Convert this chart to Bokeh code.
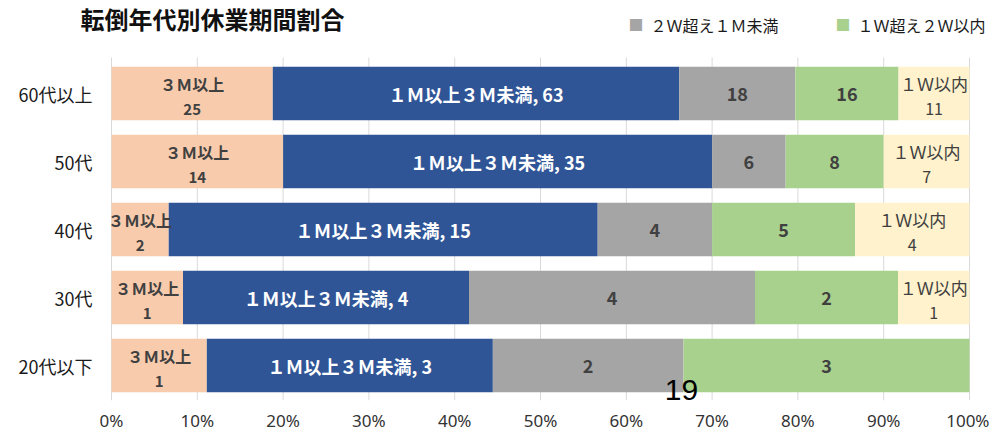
import numpy as np
from bokeh.plotting import figure
from bokeh.models import ColumnDataSource, Range1d, FixedTicker, NumeralTickFormatter
from bokeh.core.properties import value
from bokeh.embed import file_html
from bokeh.resources import INLINE

# ---------------- data ----------------
chart_title = "転倒年代別休業期間割合"
categories = ["60代以上", "50代", "40代", "30代", "20代以下"]  # top to bottom
series_names = ["３Ｍ以上", "１Ｍ以上３Ｍ未満", "２Ｗ超え１Ｍ未満", "１Ｗ超え２Ｗ以内", "１Ｗ以内"]
v_3m_plus = [25, 14, 2, 1, 1]
v_1m_3m = [63, 35, 15, 4, 3]
v_2w_1m = [18, 6, 4, 4, 2]
v_1w_2w = [16, 8, 5, 2, 3]
v_1w_in = [11, 7, 4, 1, 0]
series_colors = ["#F8CBAD", "#2F5597", "#A5A5A5", "#A9D18E", "#FFF2CC"]
x_ticks = [0.0, 0.1, 0.2, 0.3, 0.4, 0.5, 0.6, 0.7, 0.8, 0.9, 1.0]
legend_series = [2, 3]  # visible legend entries
page_note = "19"

# ---------------- layout / style ----------------
JP = "Noto Sans CJK JP"
DARK = "#404040"
FRAME_W, FRAME_H = 989, 400
PX_X = 858.0          # pixels for 0..100 %
PLOT_LEFT = 111.0     # pixel of 0 %
PX_Y = 68.0           # pixels per category row
TOP_ROW_PX = 93.0     # pixel of top row centre
n_rows = len(categories)
top_row = n_rows - 1

def xpx(px):
    return (px - PLOT_LEFT) / PX_X

def ypx(py):
    return top_row + (TOP_ROW_PX - py) / PX_Y

x_start, x_end = xpx(0), xpx(FRAME_W)
y_top, y_bottom = ypx(0), ypx(FRAME_H)
grid_top = ypx(57)

counts = np.array([v_3m_plus, v_1m_3m, v_2w_1m, v_1w_2w, v_1w_in], dtype=float)
totals = counts.sum(axis=0)
shares = counts / totals
rights = np.cumsum(shares, axis=0)
lefts = rights - shares
ys = np.arange(n_rows)[::-1].astype(float)

p = figure(frame_width=FRAME_W, frame_height=FRAME_H,
           x_range=Range1d(x_start, x_end), y_range=Range1d(y_bottom, y_top),
           y_axis_location=None,
           output_backend="svg", toolbar_location=None,
           min_border_left=0, min_border_right=0,
           min_border_top=0, min_border_bottom=28)
p.outline_line_color = None
p.background_fill_color = "white"
p.border_fill_color = "white"
p.grid.visible = False

# vertical gridlines (behind bars)
p.segment(x0=x_ticks, x1=x_ticks, y0=[y_bottom] * len(x_ticks), y1=[grid_top] * len(x_ticks),
          line_color="#D9D9D9", line_width=1)

# bars
for s in range(len(series_names)):
    src = ColumnDataSource(dict(y=ys, left=lefts[s], right=rights[s]))
    p.hbar(y="y", left="left", right="right", height=0.79, source=src,
           fill_color=series_colors[s], line_color=None)

# x axis
p.xaxis.ticker = FixedTicker(ticks=x_ticks)
p.xaxis.formatter = NumeralTickFormatter(format="0%")
p.xaxis.axis_line_color = None
p.xaxis.major_tick_line_color = None
p.xaxis.major_tick_out = 0
p.xaxis.major_tick_in = 0
p.xaxis.major_label_standoff = 8
p.xaxis.major_label_text_font = "Noto Sans"
p.xaxis.major_label_text_font_size = "17px"
p.xaxis.major_label_text_color = "#333333"


def add_text(xs, yv, texts, size, color, style, align="center", font=JP):
    if not texts:
        return
    src = ColumnDataSource(dict(x=list(xs), y=list(yv), t=list(texts)))
    p.text(x="x", y="y", text="t", source=src, text_font=value(font),
           text_font_size=size, text_color=color, text_font_style=style,
           text_align=align, text_baseline="middle")

# category labels (left)
add_text([xpx(92)] * n_rows, ys, categories, "18px", "#1a1a1a", "normal", align="right")

# in-bar labels
mid = (lefts + rights) / 2.0
up, down = 0.14, -0.235

# 3M以上 : name + value (bold)
add_text(mid[0], ys + up, [series_names[0]] * n_rows, "16px", DARK, "bold")
add_text(mid[0], ys + down, [str(int(v)) for v in counts[0]], "15px", DARK, "bold")
# 1M以上3M未満 : "name, value" white bold
add_text(mid[1], ys, [f"{series_names[1]}, {int(v)}" for v in counts[1]], "18px", "white", "bold")
# 2W-1M and 1W-2W : value only
for s in (2, 3):
    idx = [i for i in range(n_rows) if counts[s][i] > 0]
    add_text([mid[s][i] for i in idx], [ys[i] for i in idx],
             [str(int(counts[s][i])) for i in idx], "18px", DARK, "bold")
# 1W以内 : name + value, normal weight
idx = [i for i in range(n_rows) if counts[4][i] > 0]
add_text([mid[4][i] for i in idx], [ys[i] + up for i in idx], [series_names[4]] * len(idx), "17px", DARK, "normal")
add_text([mid[4][i] for i in idx], [ys[i] + down for i in idx], [str(int(counts[4][i])) for i in idx], "16px", DARK, "normal")

# title
add_text([xpx(80)], [ypx(18)], [chart_title], "24px", "#111111", "bold", align="left")

# legend (top right)
leg_sq_px = [635.5, 842.5]
leg_tx_px = [650, 857]
sw_src = ColumnDataSource(dict(x=[xpx(v) for v in leg_sq_px], y=[ypx(24)] * 2,
                               t=["■"] * 2, c=[series_colors[s] for s in legend_series]))
p.text(x="x", y="y", text="t", source=sw_src, text_font=value(JP), text_font_size="15px",
       text_color="c", text_align="center", text_baseline="middle")
add_text([xpx(v) for v in leg_tx_px], [ypx(24)] * 2, [series_names[s] for s in legend_series],
         "16px", "#1a1a1a", "normal", align="left")

# stray page number
add_text([xpx(681)], [ypx(389)], [page_note], "30px", "black", "normal", font="Liberation Sans")

open("out.html", "w").write(file_html(p, INLINE))
